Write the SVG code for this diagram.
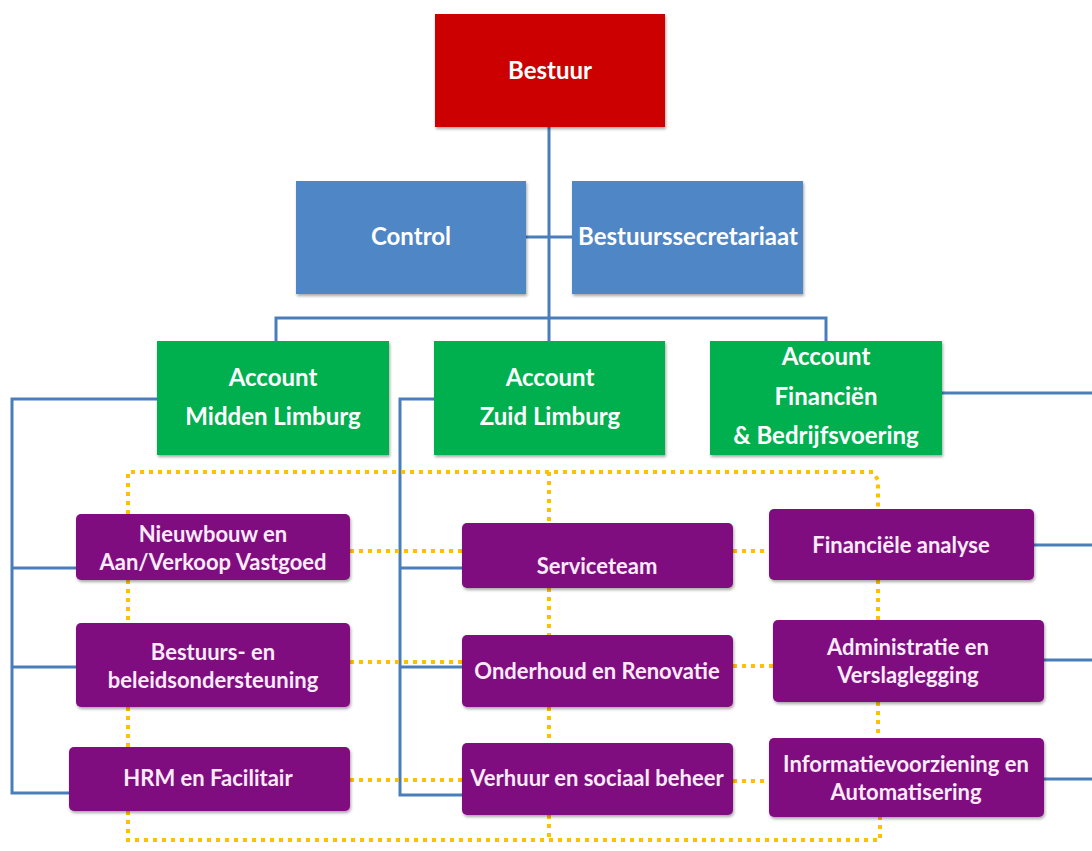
<svg xmlns="http://www.w3.org/2000/svg" width="1092" height="851" viewBox="0 0 1092 851">
<defs>
<filter id="sh" x="-10%" y="-10%" width="120%" height="130%">
<feDropShadow dx="1" dy="2" stdDeviation="1.5" flood-color="#000" flood-opacity="0.35"/>
</filter>
<style>
.red{fill:#CC0000;filter:url(#sh)}
.blue{fill:#4F86C6;filter:url(#sh)}
.green{fill:#00B050;filter:url(#sh)}
.purple{fill:#7F0A80;filter:url(#sh)}
.t{font-family:Lato,"Open Sans","Liberation Sans",sans-serif;font-weight:bold;fill:#fff;text-anchor:middle;font-size:24px}
.tp{font-family:Lato,"Open Sans","Liberation Sans",sans-serif;font-weight:bold;fill:#FBEAF9;text-anchor:middle;font-size:22px}
.ln{fill:none;stroke:#4A7EBB;stroke-width:3}
.dot{fill:none;stroke:#FFC000;stroke-width:4;stroke-dasharray:4 5}
</style>
</defs>
<rect width="1092" height="851" fill="#fff"/>
<g id="connectors">
<path class="ln" d="M549 127V341 M526 237H572 M276 341V318H826V341"/>
<path class="ln" d="M157 399H12V793H69 M12 568H76 M12 667H76"/>
<path class="ln" d="M434 399H400V795H462 M400 568H462 M400 667H462"/>
<path class="ln" d="M942 393H1092 M1034 545H1092 M1044 660H1092 M1044 779H1092"/>
<g class="dot">
<path d="M128 514V472H873L878 480V509"/>
<path d="M549 472V523"/>
<path d="M128 580V623 M128 707V747 M128 811V840H880V817 M549 815V840"/>
<path d="M549 588V635 M549 707V743"/>
<path d="M878 580V620 M878 702V738"/>
<path d="M350 551H462 M733 551H769 M350 662H462 M733 666H773 M350 780H462 M733 781H769"/>
</g>
</g>
<g id="bestuur"><rect class="red" x="435" y="14" width="230" height="113"/><text class="t" x="550" y="79">Bestuur</text></g>
<g id="control"><rect class="blue" x="296" y="181" width="230" height="113"/><text class="t" x="411" y="245">Control</text></g>
<g id="bestuurssecretariaat"><rect class="blue" x="572" y="181" width="231" height="113"/><text class="t" x="688" y="245">Bestuurssecretariaat</text></g>
<g id="midden"><rect class="green" x="157" y="341" width="232" height="114"/><text class="t" x="273" y="386">Account</text><text class="t" x="273" y="425">Midden Limburg</text></g>
<g id="zuid"><rect class="green" x="434" y="341" width="231" height="114"/><text class="t" x="550" y="386">Account</text><text class="t" x="550" y="425">Zuid Limburg</text></g>
<g id="financien"><rect class="green" x="710" y="341" width="232" height="114"/><text class="t" x="826" y="365">Account</text><text class="t" x="826" y="405">Financiën</text><text class="t" x="826" y="444">&amp; Bedrijfsvoering</text></g>
<g id="nieuwbouw"><rect class="purple" x="76" y="514" width="274" height="66" rx="5"/><text class="tp" x="213" y="542">Nieuwbouw en</text><text class="tp" x="213" y="570">Aan/Verkoop Vastgoed</text></g>
<g id="bestuurs"><rect class="purple" x="76" y="623" width="274" height="84" rx="5"/><text class="tp" x="213" y="660">Bestuurs- en</text><text class="tp" x="213" y="688">beleidsondersteuning</text></g>
<g id="hrm"><rect class="purple" x="69" y="747" width="281" height="64" rx="5"/><text class="tp" x="208" y="786">HRM en Facilitair</text></g>
<g id="serviceteam"><rect class="purple" x="462" y="523" width="271" height="65" rx="5"/><text class="tp" x="597" y="574">Serviceteam</text></g>
<g id="onderhoud"><rect class="purple" x="462" y="635" width="271" height="72" rx="5"/><text class="tp" x="597" y="679">Onderhoud en Renovatie</text></g>
<g id="verhuur"><rect class="purple" x="462" y="743" width="271" height="72" rx="5"/><text class="tp" x="597" y="786">Verhuur en sociaal beheer</text></g>
<g id="financiele"><rect class="purple" x="769" y="509" width="265" height="71" rx="5"/><text class="tp" x="901" y="553">Financiële analyse</text></g>
<g id="administratie"><rect class="purple" x="773" y="620" width="271" height="82" rx="5"/><text class="tp" x="908" y="655">Administratie en</text><text class="tp" x="908" y="683">Verslaglegging</text></g>
<g id="informatie"><rect class="purple" x="769" y="738" width="275" height="79" rx="5"/><text class="tp" x="906" y="772">Informatievoorziening en</text><text class="tp" x="906" y="800">Automatisering</text></g>
</svg>
